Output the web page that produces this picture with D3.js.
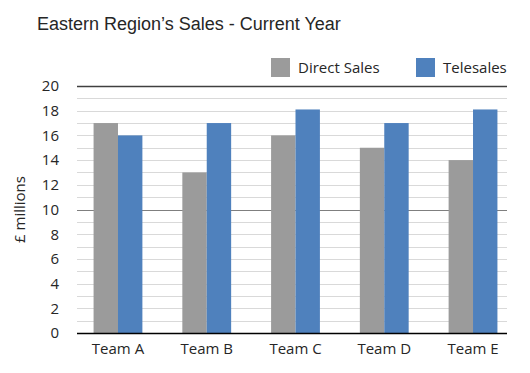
<!DOCTYPE html>
<html>
<head>
<meta charset="utf-8">
<script src="https://cdn.jsdelivr.net/npm/d3@7"></script>
<style>
  body { margin: 0; background: #fff; }
  svg text { font-family: "Open Sans", "Noto Sans", sans-serif; fill: #262626; }
</style>
</head>
<body>
<div id="chart"></div>
<script>
// data
var teams = ["Team A", "Team B", "Team C", "Team D", "Team E"];
var directSales = [17, 13, 16, 15, 14];
var telesales = [16, 17, 18.1, 17, 18.1];
var seriesNames = ["Direct Sales", "Telesales"];
var seriesColors = ["#9b9b9b", "#4f81bd"];
var yTicks = [0, 2, 4, 6, 8, 10, 12, 14, 16, 18, 20];

var width = 530;
var height = 373;
var margin = { left: 77, right: 23, top: 86, bottom: 40 };

var svg = d3.select("#chart").
    append("svg").
    attr("width", width).
    attr("height", height);

// bands are a bit wider than the plot frame, as in the original
var xScale = d3.scaleBand().
    domain(teams).
    range([73.6, 517.4]).
    paddingInner(0.45).
    paddingOuter(0.225);

var subScale = d3.scaleBand().
    domain(seriesNames).
    range([0, xScale.bandwidth()]);

var yScale = d3.scaleLinear().
    domain([0, 20]).
    range([height - margin.bottom, margin.top]);

// gridlines, one every unit
var gridVals = d3.range(0, 21);
svg.append("g").
    selectAll("line").
    data(gridVals).
    enter().
    append("line").
    attr("x1", margin.left).
    attr("x2", width - margin.right).
    attr("y1", function (d) { return Math.round(yScale(d)) + 0.5; }).
    attr("y2", function (d) { return Math.round(yScale(d)) + 0.5; }).
    attr("stroke", function (d) {
        if (d == 20) return "#404040";
        if (d == 10) return "#7f7f7f";
        return "#d9d9d9";
    }).
    attr("stroke-width", function (d) { return d == 20 ? 1.5 : 1; });

var rows = teams.map(function (t, i) {
    return { team: t, values: [directSales[i], telesales[i]] };
});

var groups = svg.selectAll(".grp").
    data(rows).
    enter().
    append("g").
    attr("class", "grp").
    attr("transform", function (d) { return "translate(" + xScale(d.team) + ",0)"; });

groups.selectAll("rect").
    data(function (d) {
        return d.values.map(function (v, j) { return { name: seriesNames[j], value: v, j: j }; });
    }).
    enter().
    append("rect").
    attr("x", function (d) { return subScale(d.name); }).
    attr("width", subScale.bandwidth()).
    attr("y", function (d) { return yScale(d.value); }).
    attr("height", function (d) { return yScale(0) - yScale(d.value); }).
    attr("fill", function (d) { return seriesColors[d.j]; });

// x axis line
svg.append("line").
    attr("x1", margin.left).
    attr("x2", width - margin.right).
    attr("y1", yScale(0) + 0.5).
    attr("y2", yScale(0) + 0.5).
    attr("stroke", "#000").
    attr("stroke-width", 1.5);

var yAxis = d3.axisLeft(yScale).
    tickValues(yTicks).
    tickSize(0).
    tickPadding(0);

svg.append("g").
    attr("transform", "translate(" + (margin.left - 18) + ",0)").
    call(yAxis).
    call(function (g) {
        g.select(".domain").remove();
        g.selectAll("text").
            attr("font-size", 15).
            attr("fill", "#262626").
            style("font-family", "'Open Sans', 'Noto Sans', sans-serif");
    });

var xAxis = d3.axisBottom(xScale).
    tickSize(0).
    tickPadding(10);

svg.append("g").
    attr("transform", "translate(0," + yScale(0) + ")").
    call(xAxis).
    call(function (g) {
        g.select(".domain").remove();
        g.selectAll("text").
            attr("font-size", 15).
            attr("fill", "#262626").
            style("font-family", "'Open Sans', 'Noto Sans', sans-serif");
    });

// y axis title
svg.append("text").
    attr("transform", "translate(25," + yScale(10) + ") rotate(-90)").
    attr("text-anchor", "middle").
    attr("font-size", 15).
    text("£ millions");

// chart title
svg.append("text").
    attr("x", 37).
    attr("y", 30).
    attr("font-size", 18).
    style("font-family", "'Liberation Sans', Arial, sans-serif").
    text("Eastern Region\u2019s Sales - Current Year");

// legend
var legendX = [271, 416];
var legend = svg.selectAll(".legend").
    data(seriesNames).
    enter().
    append("g").
    attr("class", "legend").
    attr("transform", function (d, i) { return "translate(" + legendX[i] + ",58)"; });

legend.append("rect").
    attr("width", 19).
    attr("height", 19).
    attr("fill", function (d, i) { return seriesColors[i]; });

legend.append("text").
    attr("x", 27).
    attr("y", 15).
    attr("font-size", 15).
    text(function (d) { return d; });
</script>
</body>
</html>
